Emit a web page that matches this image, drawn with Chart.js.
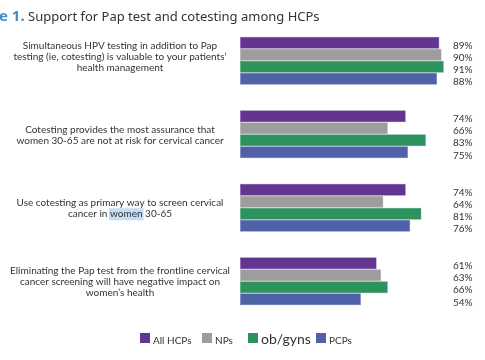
<!DOCTYPE html>
<html>
<head>
<meta charset="utf-8">
<script src="https://cdn.jsdelivr.net/npm/chart.js@4.4.1/dist/chart.umd.min.js"></script>
<style>
  html, body { margin: 0; padding: 0; background: #ffffff; }
  #wrap { position: relative; width: 485px; height: 360px; }
</style>
</head>
<body>
<div id="wrap"><canvas id="chart" width="485" height="360"></canvas></div>
<script>
// data
const categories = [
  ['Simultaneous HPV testing in addition to Pap', 'testing (ie, cotesting) is valuable to your patients\u2019', 'health management'],
  ['Cotesting provides the most assurance that', 'women 30-65 are not at risk for cervical cancer'],
  ['Use cotesting as primary way to screen cervical', 'cancer in women 30-65'],
  ['Eliminating the Pap test from the frontline cervical', 'cancer screening will have negative impact on', 'women\u2019s health']
];
const seriesNames = ['All HCPs', 'NPs', 'ob/gyns', 'PCPs'];
const allHcps = [89, 74, 74, 61];
const nps = [90, 66, 64, 63];
const obGyns = [91, 83, 81, 66];
const pcps = [88, 75, 76, 54];

const colors = ['#633591', '#9d9d9d', '#2e925e', '#4f62a8'];
const edges = ['#7f5ea8', '#ababab', '#55a57b', '#6f7fba'];

const TEXT = '#333333';
const FONT = 'Lato, "Open Sans", sans-serif';

// title with the blue figure number
const titlePlugin = {
  id: 'titleText',
  afterDraw(chart) {
    const ctx = chart.ctx;
    ctx.save();
    ctx.textBaseline = 'alphabetic';
    ctx.textAlign = 'left';
    ctx.fillStyle = '#3f8fcf';
    ctx.font = 'bold 15px "Noto Sans", sans-serif';
    ctx.fillText('e 1.', -1, 21);
    ctx.fillStyle = '#333333';
    ctx.font = '13px "Noto Sans", sans-serif';
    ctx.fillText('Support for Pap test and cotesting among HCPs', 28, 21);
    ctx.restore();
  }
};

// centred multi-line category labels left of the bars
const categoryPlugin = {
  id: 'categoryText',
  afterDraw(chart) {
    const ctx = chart.ctx;
    const y = chart.scales.y;
    ctx.save();
    ctx.font = '10px ' + FONT;
    ctx.textAlign = 'center';
    ctx.textBaseline = 'middle';
    const lh = 11;
    categories.forEach((lines, i) => {
      const cy = y.getPixelForValue(i) + (i === 0 ? -4 : 1);
      const top = cy - (lines.length - 1) * lh / 2;
      lines.forEach((line, j) => {
        const ly = top + j * lh;
        // the reference has "women" selected in the third label
        if (i === 2 && j === 1) {
          const full = ctx.measureText(line).width;
          const pre = ctx.measureText('cancer in ').width;
          const w = ctx.measureText('women').width;
          ctx.fillStyle = '#c5dcf5';
          ctx.fillRect(120 - full / 2 + pre - 1, ly - 6, w + 2, 12);
        }
        ctx.fillStyle = TEXT;
        ctx.fillText(line, 120, ly);
      });
    });
    ctx.restore();
  }
};

// percentage labels at the right edge
const valuePlugin = {
  id: 'valueText',
  afterDatasetsDraw(chart) {
    const ctx = chart.ctx;
    ctx.save();
    ctx.font = '10px ' + FONT;
    ctx.fillStyle = TEXT;
    ctx.textAlign = 'left';
    ctx.textBaseline = 'middle';
    chart.data.datasets.forEach((ds, di) => {
      chart.getDatasetMeta(di).data.forEach((bar, i) => {
        ctx.fillText(ds.data[i] + '%', 453, bar.y + 3);
      });
    });
    ctx.restore();
  }
};

// legend at the bottom, ob/gyns is set larger in the reference
const legendPlugin = {
  id: 'bottomLegend',
  afterDraw(chart) {
    const ctx = chart.ctx;
    const xs = [140, 202, 248, 316];
    const sizes = [10, 10, 14, 10];
    ctx.save();
    ctx.textBaseline = 'alphabetic';
    ctx.textAlign = 'left';
    chart.data.datasets.forEach((ds, i) => {
      ctx.fillStyle = ds.backgroundColor;
      ctx.fillRect(xs[i], 333, 10, 10);
      ctx.fillStyle = TEXT;
      ctx.font = sizes[i] + 'px ' + FONT;
      ctx.fillText(ds.label, xs[i] + 13, 344);
    });
    ctx.restore();
  }
};

const seriesValues = [allHcps, nps, obGyns, pcps];

new Chart(document.getElementById('chart'), {
  type: 'bar',
  data: {
    labels: categories.map(c => c.join(' ')),
    datasets: seriesValues.map((vals, i) => ({
      label: seriesNames[i],
      data: vals,
      backgroundColor: colors[i],
      borderColor: edges[i],
      borderWidth: 0.5,
      borderSkipped: false,
      barPercentage: 1,
      categoryPercentage: 0.655
    }))
  },
  options: {
    indexAxis: 'y',
    responsive: false,
    animation: false,
    events: [],
    layout: { padding: { left: 240, right: 21, top: 24, bottom: 42 } },
    plugins: {
      legend: { display: false },
      title: { display: false },
      tooltip: { enabled: false }
    },
    scales: {
      x: { display: false, min: 0, max: 100 },
      y: { display: false }
    }
  },
  plugins: [titlePlugin, categoryPlugin, valuePlugin, legendPlugin]
});
</script>
</body>
</html>
